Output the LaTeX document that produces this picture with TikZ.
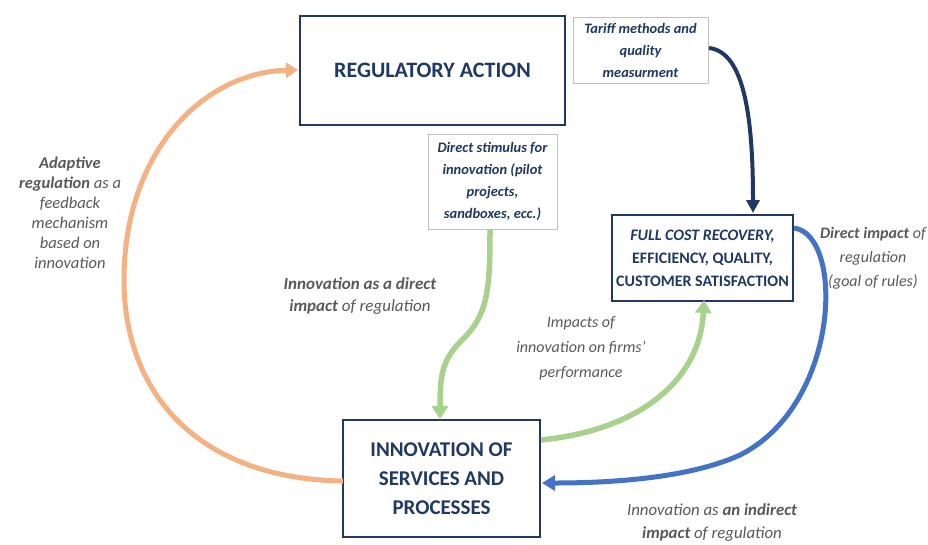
\documentclass[tikz,border=0pt]{standalone}
\usepackage{fontspec}
\setmainfont{Carlito}
\usetikzlibrary{arrows.meta}
\definecolor{navy}{HTML}{1F3864}
\definecolor{txtgray}{HTML}{595959}
\definecolor{orangeA}{HTML}{F4B183}
\definecolor{greenA}{HTML}{A9D18E}
\definecolor{blueA}{HTML}{4472C4}
\definecolor{thinborder}{HTML}{BFBFBF}
\tikzset{
  mainbox/.style={draw=navy, line width=1.8pt, fill=white, inner sep=0pt, align=center, text=navy, font=\bfseries},
  smallbox/.style={draw=thinborder, line width=0.6pt, fill=white, inner sep=0pt, align=center, text=navy, font=\bfseries\itshape},
  lbl/.style={align=center, text=txtgray, font=\itshape, inner sep=0pt},
  orangearrow/.style={draw=orangeA, line width=5pt, -{Triangle[width=15pt,length=12pt]}},
  greenarrow/.style={draw=greenA, line width=5.5pt, -{Triangle[width=16pt,length=13pt]}},
  bluearrow/.style={draw=blueA, line width=5pt, -{Triangle[width=15pt,length=13pt]}},
  navyarrow/.style={draw=navy, line width=4pt, -{Triangle[width=13pt,length=13pt]}}
}
\begin{document}
\begin{tikzpicture}[x=1pt,y=-1pt]
\useasboundingbox (0,0) rectangle (928,544);

% boxes
\node[mainbox, minimum width=265pt, minimum height=109pt, font=\fontsize{22}{26}\selectfont\bfseries] (reg) at (432.5,70.5) {REGULATORY ACTION};
\node[smallbox, minimum width=135pt, minimum height=66pt, font=\fontsize{14.4}{22}\selectfont\bfseries\itshape] (tariff) at (640.5,50) {Tariff methods and\\quality\\measurment};
\node[smallbox, minimum width=129pt, minimum height=95pt, font=\fontsize{14.5}{22}\selectfont\bfseries\itshape] (stim) at (492.5,181.5) {Direct stimulus for\\innovation (pilot\\projects,\\sandboxes, ecc.)};
\node[mainbox, minimum width=181pt, minimum height=86pt, font=\fontsize{16}{23}\selectfont\bfseries] (full) at (702.5,258) {\textit{FULL COST RECOVERY,}\\EFFICIENCY, QUALITY,\\CUSTOMER SATISFACTION};
\node[mainbox, minimum width=197pt, minimum height=117pt, font=\fontsize{21}{29}\selectfont\bfseries] (innov) at (441.5,478.5) {INNOVATION OF\\SERVICES AND\\PROCESSES};

% anchor points
\coordinate (o1) at (343,481);
\coordinate (o2) at (298,70);
\coordinate (n1) at (709,48);
\coordinate (n2) at (753,213);
\coordinate (g1) at (490,229);
\coordinate (g2) at (440,419);
\coordinate (h1) at (541,440);
\coordinate (h2) at (704,300);
\coordinate (b1) at (794,228);
\coordinate (b2) at (542,483);

% arrows
\draw[orangearrow] (o1) .. controls (200,479) and (124,395) .. (124,280) .. controls (124,150) and (205,72) .. (o2);
\draw[navyarrow] (n1) .. controls (745,52) and (753,120) .. (n2);
\draw[greenarrow] (g1) .. controls (490,290) and (488,315) .. (462,340) .. controls (442,360) and (440,375) .. (g2);
\draw[greenarrow] (h1) .. controls (640,430) and (700,380) .. (h2);
\draw[bluearrow] (b1) .. controls (845,235) and (840,405) .. (740,455) .. controls (685,480) and (600,483) .. (b2);

% labels
\node[lbl, font=\fontsize{16.5}{20}\selectfont\itshape] (adapt) at (70,213) {\textbf{Adaptive}\\\textbf{regulation} as a\\feedback\\mechanism\\based on\\innovation};
\node[lbl, font=\fontsize{17}{22}\selectfont\itshape] (direct) at (360,296) {\textbf{Innovation as a direct}\\\textbf{impact} of regulation};
\node[lbl, font=\fontsize{16}{25}\selectfont\itshape] (impacts) at (581,348) {Impacts of\\innovation on firms’\\performance};
\node[lbl, font=\fontsize{16}{24}\selectfont\itshape] (dimp) at (873,258) {\textbf{Direct impact} of\\regulation\\(goal of rules)};
\node[lbl, font=\fontsize{16.8}{23}\selectfont\itshape] (indirect) at (712,523) {Innovation as \textbf{an indirect}\\\textbf{impact} of regulation};
\end{tikzpicture}
\end{document}
